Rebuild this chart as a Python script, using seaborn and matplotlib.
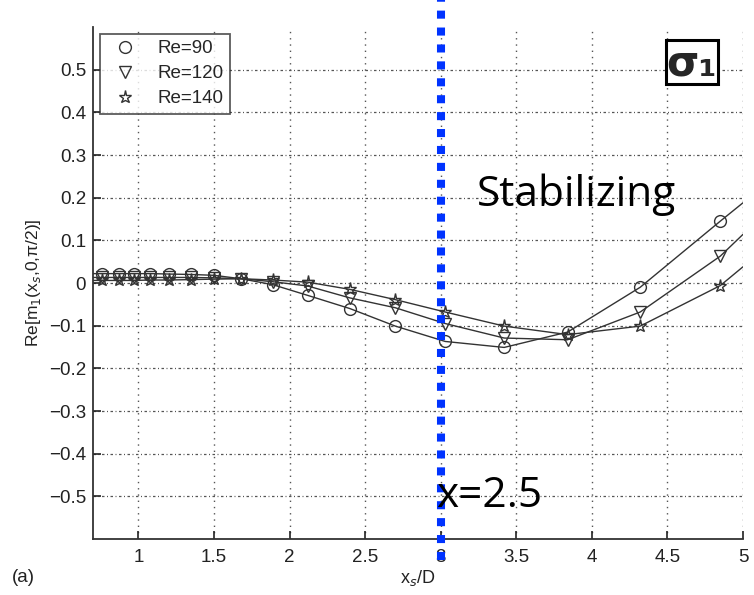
import matplotlib
matplotlib.use("Agg")
import matplotlib.pyplot as plt
import seaborn as sns
import pandas as pd
from matplotlib.lines import Line2D
from matplotlib.patches import Rectangle

# ---- data ----
xs = [0.76, 0.87, 0.97, 1.08, 1.20, 1.35, 1.50, 1.68, 1.89, 2.12, 2.40, 2.70,
      3.03, 3.42, 3.84, 4.32, 4.85]
re90 = [0.022, 0.022, 0.022, 0.022, 0.021, 0.020, 0.018, 0.010, -0.004, -0.029,
        -0.060, -0.101, -0.137, -0.151, -0.115, -0.010, 0.145]
re120 = [0.013, 0.013, 0.013, 0.013, 0.013, 0.013, 0.012, 0.010, 0.003, -0.007,
         -0.035, -0.058, -0.095, -0.129, -0.133, -0.068, 0.063]
re140 = [0.006, 0.006, 0.006, 0.007, 0.007, 0.008, 0.009, 0.010, 0.007, 0.002,
         -0.015, -0.039, -0.068, -0.101, -0.121, -0.101, -0.006]
# curve end points (fitted lines extend to the axis limits)
x_start, x_end = 0.70, 5.0
ends90 = [0.022, 0.188]
ends120 = [0.013, 0.114]
ends140 = [0.006, 0.038]
labels = ["Re=90", "Re=120", "Re=140"]
markers = ["o", "v", "*"]
xticks = [1, 1.5, 2, 2.5, 3, 3.5, 4, 4.5, 5]
xticklabels = ["1", "1.5", "2", "2.5", "3", "3.5", "4", "4.5", "5"]
yticks = [-0.5, -0.4, -0.3, -0.2, -0.1, 0, 0.1, 0.2, 0.3, 0.4, 0.5]
yticklabels = ["\u22120.5", "\u22120.4", "\u22120.3", "\u22120.2", "\u22120.1", "0",
               "0.1", "0.2", "0.3", "0.4", "0.5"]
vline_x = 3.0

sns.set_theme(style="white")
plt.rcParams["font.family"] = ["Liberation Sans", "DejaVu Sans"]

fig = plt.figure(figsize=(7.54, 5.95), dpi=100)
ax = fig.add_axes([93/754, 1 - 539/595, 650/754, 512/595])

series = [re90, re120, re140]
ends = [ends90, ends120, ends140]
mk_sizes = [8.5, 8.5, 9.5]
for vals, e, lab, mk, ms in zip(series, ends, labels, markers, mk_sizes):
    curve = pd.DataFrame({"x": [x_start] + xs + [x_end], "y": [e[0]] + vals + [e[1]]})
    sns.lineplot(data=curve, x="x", y="y", ax=ax, color="#333333", lw=1.0,
                 sort=True, estimator=None, legend=False)
    pts = pd.DataFrame({"x": xs, "y": vals})
    sns.lineplot(data=pts, x="x", y="y", ax=ax, color="#333333", lw=0,
                 marker=mk, markersize=ms, markerfacecolor="none",
                 markeredgecolor="#333333", markeredgewidth=1.0,
                 estimator=None, legend=False)

ax.set_xlim(0.7, 5.0)
ax.set_ylim(-0.6, 0.6)
ax.set_xticks(xticks)
ax.set_xticklabels(xticklabels)
ax.set_yticks(yticks)
ax.set_yticklabels(yticklabels)
ax.tick_params(direction="in", length=6, width=1.2, colors="#222222",
               labelsize=13.5, left=True, bottom=True)
ax.tick_params(axis="y", pad=5)
ax.tick_params(axis="x", pad=7)
for s in ["top", "right"]:
    ax.spines[s].set_visible(False)
for s in ["left", "bottom"]:
    ax.spines[s].set_color("#333333")
    ax.spines[s].set_linewidth(1.3)

# grid
for xv in xticks:
    ax.axvline(xv, color="#555555", lw=1.0, ls=(0, (1, 3.5)), zorder=0)
for yv in yticks:
    ax.axhline(yv, color="#555555", lw=0.9, ls=(0, (2, 2, 0.8, 2)), zorder=0)

ax.set_xlabel("x$_s$/D", fontsize=13, color="#222222", labelpad=2)
ax.set_ylabel("Re[m$_1$(x$_s$,0,\u03c0/2)]", fontsize=12.5, color="#222222", labelpad=4)

handles = [Line2D([], [], ls="none", marker=m, ms=s, mfc="none", mec="#333333", mew=1.0)
           for m, s in zip(markers, mk_sizes)]
leg = ax.legend(handles, labels, loc="upper left", bbox_to_anchor=(0.011, 0.987),
                fontsize=13.5, frameon=True, fancybox=False, borderpad=0.35,
                labelspacing=0.42, handletextpad=0.8, handlelength=1.9,
                borderaxespad=0.0)
leg.get_frame().set_edgecolor("#333333")
leg.get_frame().set_linewidth(1.3)
leg.set_zorder(5)

# blue dotted vertical marker line
ax.axvline(vline_x, ymin=-0.041, ymax=1.06, color="#0033ff", lw=5.8,
           ls=(0, (1, 1.1)), dash_capstyle="butt", clip_on=False, zorder=6)

txt_font = ["Open Sans", "DejaVu Sans"]
fig.text(477/754, 1 - 195/595, "Stabilizing", fontsize=30.5, family=txt_font,
         color="black", ha="left", va="center")
fig.text(436/754, 1 - 496/595, "x=2.5", fontsize=30.5, family=txt_font,
         color="black", ha="left", va="center")
fig.text(12/754, 1 - 578/595, "(a)", fontsize=13.5, color="#222222",
         ha="left", va="center")

# sigma_1 boxed label
fig.patches.append(Rectangle((666/754, 1 - 84/595), 52/754, 44/595,
                             transform=fig.transFigure, fill=True, fc="white",
                             ec="black", lw=2.2, zorder=7))
fig.text(692/754, 1 - 63/595, "\u03c3\u2081", fontsize=30, fontweight="bold",
         family=["DejaVu Sans"], ha="center", va="center", zorder=8)

fig.savefig("out.png", dpi=100)
